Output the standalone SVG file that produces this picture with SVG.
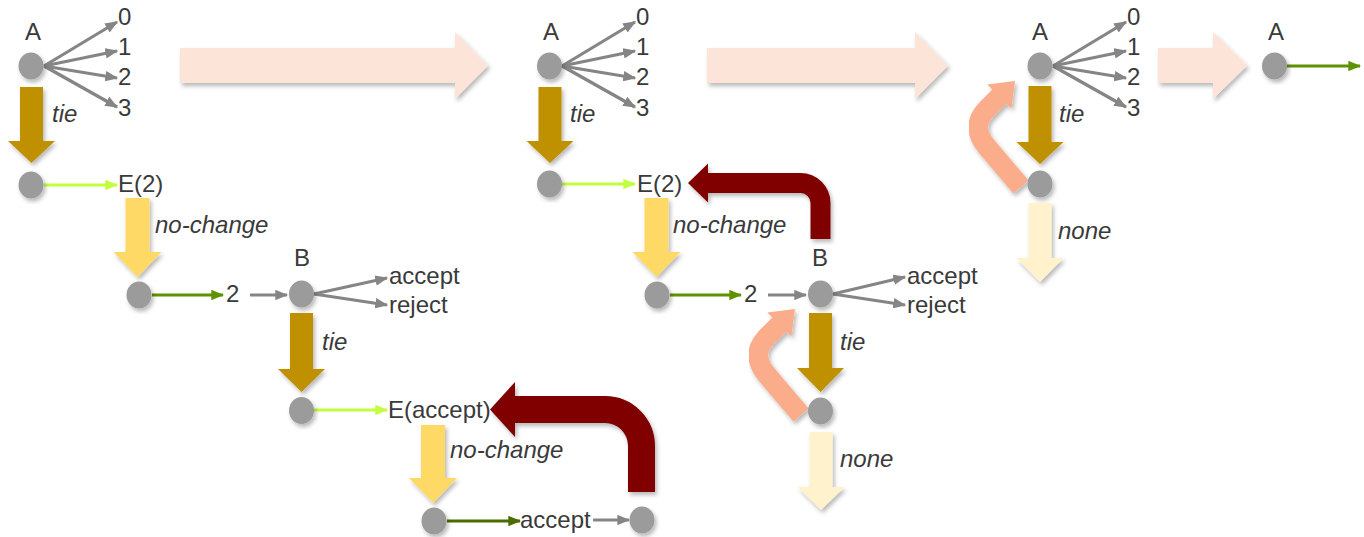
<svg xmlns="http://www.w3.org/2000/svg" width="1364" height="537" viewBox="0 0 1364 537">
  <style>
    text { font-family: "Liberation Sans", Arial, sans-serif; font-size: 24px; fill: #3a3a3a; }
    .it { font-style: italic; }
    .mid { text-anchor: middle; }
    .node ellipse { fill: #9b9b9b; filter: url(#shadow); }
    .thin { fill: none; stroke-width: 3.2; }
    .grey { stroke: #858585; marker-end: url(#hGrey); }
    .lime { stroke: #c2ff3c; marker-end: url(#hLime); }
    .green { stroke: #5f9200; marker-end: url(#hGreen); }
    .dgreen { stroke: #4a6c00; marker-end: url(#hDgreen); }
    .blk { filter: url(#shadow); }
    .tie { fill: #bf9000; }
    .nochange { fill: #ffd966; }
    .none { fill: #fff2cc; }
    .step { fill: #fde4d9; }
    .back { fill: none; stroke: #800000; }
    .backhead { fill: #800000; }
    .retry { fill: none; stroke: #fbad8b; stroke-width: 20; }
    .retryhead { fill: #fbad8b; }
  </style>
  <defs>
    <filter id="shadow" x="-20%" y="-20%" width="140%" height="140%">
      <feDropShadow dx="2" dy="3" stdDeviation="2" flood-color="#000" flood-opacity="0.28"/>
    </filter>
    <marker id="hGrey" viewBox="0 0 10 8" refX="9" refY="4" markerWidth="13" markerHeight="10.4" markerUnits="userSpaceOnUse" orient="auto">
      <path d="M0,0 L10,4 L0,8 z" fill="#858585"/>
    </marker>
    <marker id="hLime" viewBox="0 0 10 8" refX="9" refY="4" markerWidth="13" markerHeight="10.4" markerUnits="userSpaceOnUse" orient="auto">
      <path d="M0,0 L10,4 L0,8 z" fill="#c2ff3c"/>
    </marker>
    <marker id="hGreen" viewBox="0 0 10 8" refX="9" refY="4" markerWidth="13" markerHeight="10.4" markerUnits="userSpaceOnUse" orient="auto">
      <path d="M0,0 L10,4 L0,8 z" fill="#5f9200"/>
    </marker>
    <marker id="hDgreen" viewBox="0 0 10 8" refX="9" refY="4" markerWidth="13" markerHeight="10.4" markerUnits="userSpaceOnUse" orient="auto">
      <path d="M0,0 L10,4 L0,8 z" fill="#4a6c00"/>
    </marker>
  </defs>

  <!-- broad step arrows between the stages -->
  <g id="steps" class="blk">
    <polygon class="step" points="180,48 455,48 455,32 488,65.5 455,99 455,83 180,83"/>
    <polygon class="step" points="707,48 915,48 915,32 948,65.5 915,99 915,83 707,83"/>
    <polygon class="step" points="1158,48 1213,48 1213,32 1247,65.5 1213,99 1213,83 1158,83"/>
  </g>

  <g id="connectors">
    <!-- stage 1 -->
    <line class="thin grey" x1="44" y1="66" x2="117" y2="22"/>
    <line class="thin grey" x1="44" y1="66" x2="117" y2="51"/>
    <line class="thin grey" x1="44" y1="66" x2="117" y2="78"/>
    <line class="thin grey" x1="44" y1="66" x2="117" y2="107"/>
    <polygon class="tie blk" points="20,87 43,87 43,141 55,141 31.5,163 8,141 20,141"/>
    <line class="thin lime" x1="44" y1="185" x2="117" y2="185"/>
    <polygon class="nochange blk" points="125.5,198 149.5,198 149.5,252 161.5,252 137.5,277 113.5,252 125.5,252"/>
    <line class="thin green" x1="152" y1="295" x2="223" y2="295"/>
    <line class="thin grey" x1="250" y1="295" x2="287" y2="295"/>
    <line class="thin grey" x1="314" y1="294" x2="387" y2="278"/>
    <line class="thin grey" x1="314" y1="294" x2="387" y2="305"/>
    <polygon class="tie blk" points="290,313 313,313 313,369 325,369 301.5,392 278,369 290,369"/>
    <line class="thin lime" x1="314" y1="410" x2="387" y2="410"/>
    <polygon class="nochange blk" points="421,425 445,425 445,478 457,478 433,503 409,478 421,478"/>
    <line class="thin dgreen" x1="447" y1="521" x2="520" y2="521"/>
    <line class="thin grey" x1="593" y1="520" x2="629" y2="520"/>
    <g class="blk">
      <path class="back" stroke-width="27" d="M641.5,492 L641.5,446 A36.5,36.5 0 0 0 605,409.5 L513,409.5"/>
      <polygon class="backhead" points="515,382 490,409.5 515,437"/>
    </g>

    <!-- stage 2 -->
    <line class="thin grey" x1="562" y1="66" x2="635" y2="22"/>
    <line class="thin grey" x1="562" y1="66" x2="635" y2="51"/>
    <line class="thin grey" x1="562" y1="66" x2="635" y2="78"/>
    <line class="thin grey" x1="562" y1="66" x2="635" y2="107"/>
    <polygon class="tie blk" points="538.5,87 561.5,87 561.5,141 573.5,141 550,163 526.5,141 538.5,141"/>
    <line class="thin lime" x1="562" y1="184" x2="635" y2="184"/>
    <polygon class="nochange blk" points="644.5,198 668.5,198 668.5,252 680.5,252 656.5,277 632.5,252 644.5,252"/>
    <line class="thin green" x1="670" y1="295" x2="741" y2="295"/>
    <line class="thin grey" x1="768" y1="295" x2="806" y2="295"/>
    <line class="thin grey" x1="833" y1="294" x2="905" y2="277"/>
    <line class="thin grey" x1="833" y1="294" x2="905" y2="305"/>
    <polygon class="tie blk" points="809,313 832,313 832,368 844,368 820.5,392 797,368 809,368"/>
    <polygon class="none blk" points="809.5,432 832.5,432 832.5,487 844.5,487 821,510 797.5,487 809.5,487"/>
    <g class="blk">
      <path class="back" stroke-width="20" d="M820.5,239 L820.5,203 A20,20 0 0 0 800.5,183 L706,183"/>
      <polygon class="backhead" points="708,163.5 688,183 708,202.5"/>
    </g>
    <g class="blk">
      <path class="retry" d="M801,415 L767,375 Q750,355 766,338 L780,324"/>
      <polygon class="retryhead" points="767.4,312.6 795,309 791.4,336.6"/>
    </g>

    <!-- stage 3 -->
    <line class="thin grey" x1="1053" y1="66" x2="1126" y2="22"/>
    <line class="thin grey" x1="1053" y1="66" x2="1126" y2="51"/>
    <line class="thin grey" x1="1053" y1="66" x2="1126" y2="78"/>
    <line class="thin grey" x1="1053" y1="66" x2="1126" y2="107"/>
    <polygon class="tie blk" points="1028.5,86 1051.5,86 1051.5,142 1063.5,142 1040,164 1016.5,142 1028.5,142"/>
    <polygon class="none blk" points="1028.5,203 1051.5,203 1051.5,258 1063.5,258 1040,282 1016.5,258 1028.5,258"/>
    <g class="blk">
      <path class="retry" d="M1021,187 L987,147 Q970,127 986,110 L1000,96"/>
      <polygon class="retryhead" points="987.4,84.6 1015,81 1011.4,108.6"/>
    </g>

    <!-- stage 4 -->
    <line class="thin green" x1="1287" y1="66" x2="1360" y2="66"/>
  </g>

  <!-- edge labels -->
  <g id="edge-labels">
    <text class="it" x="52" y="122">tie</text>
    <text class="it" x="155" y="233">no-change</text>
    <text class="it" x="322" y="350">tie</text>
    <text class="it" x="450" y="458">no-change</text>
    <text class="it" x="570" y="122">tie</text>
    <text class="it" x="673" y="233">no-change</text>
    <text class="it" x="840" y="350">tie</text>
    <text class="it" x="840" y="467">none</text>
    <text class="it" x="1059" y="122">tie</text>
    <text class="it" x="1058" y="239">none</text>
  </g>

  <!-- stage 1 nodes -->
  <g id="s1-A" class="node"><ellipse cx="31" cy="66" rx="12.5" ry="13.5"/><text class="mid" x="33" y="40">A</text></g>
  <g id="s1-A-out"><text x="118" y="25">0</text><text x="118" y="55">1</text><text x="118" y="85">2</text><text x="118" y="116">3</text></g>
  <g id="s1-tieA" class="node"><ellipse cx="31" cy="185" rx="12.5" ry="13.5"/></g>
  <g id="s1-E2"><text x="118" y="192">E(2)</text></g>
  <g id="s1-nc1" class="node"><ellipse cx="139" cy="295" rx="12.5" ry="13.5"/></g>
  <g id="s1-val2"><text x="226" y="302">2</text></g>
  <g id="s1-B" class="node"><ellipse cx="301.5" cy="294" rx="12.5" ry="13.5"/><text class="mid" x="302" y="266">B</text></g>
  <g id="s1-B-out"><text x="389" y="284">accept</text><text x="389" y="313">reject</text></g>
  <g id="s1-tieB" class="node"><ellipse cx="301.5" cy="410.5" rx="12.5" ry="13.5"/></g>
  <g id="s1-Eaccept"><text x="388" y="418">E(accept)</text></g>
  <g id="s1-nc2" class="node"><ellipse cx="434" cy="521" rx="12.5" ry="13.5"/></g>
  <g id="s1-accept"><text x="520" y="528">accept</text></g>
  <g id="s1-end" class="node"><ellipse cx="642" cy="520" rx="12.5" ry="13.5"/></g>

  <!-- stage 2 nodes -->
  <g id="s2-A" class="node"><ellipse cx="549.5" cy="66" rx="12.5" ry="13.5"/><text class="mid" x="551" y="40">A</text></g>
  <g id="s2-A-out"><text x="636" y="25">0</text><text x="636" y="55">1</text><text x="636" y="85">2</text><text x="636" y="116">3</text></g>
  <g id="s2-tieA" class="node"><ellipse cx="549.5" cy="184" rx="12.5" ry="13.5"/></g>
  <g id="s2-E2"><text x="637" y="192">E(2)</text></g>
  <g id="s2-nc1" class="node"><ellipse cx="657" cy="295" rx="12.5" ry="13.5"/></g>
  <g id="s2-val2"><text x="744" y="302">2</text></g>
  <g id="s2-B" class="node"><ellipse cx="820.5" cy="294" rx="12.5" ry="13.5"/><text class="mid" x="820" y="266">B</text></g>
  <g id="s2-B-out"><text x="907" y="284">accept</text><text x="907" y="313">reject</text></g>
  <g id="s2-tieB" class="node"><ellipse cx="820.5" cy="411" rx="12.5" ry="13.5"/></g>

  <!-- stage 3 nodes -->
  <g id="s3-A" class="node"><ellipse cx="1040" cy="66" rx="12.5" ry="13.5"/><text class="mid" x="1040" y="40">A</text></g>
  <g id="s3-A-out"><text x="1127" y="25">0</text><text x="1127" y="55">1</text><text x="1127" y="85">2</text><text x="1127" y="116">3</text></g>
  <g id="s3-tieA" class="node"><ellipse cx="1040" cy="184" rx="12.5" ry="13.5"/></g>

  <!-- stage 4 node -->
  <g id="s4-A" class="node"><ellipse cx="1274.5" cy="66" rx="12.5" ry="13.5"/><text class="mid" x="1276" y="40">A</text></g>
</svg>
